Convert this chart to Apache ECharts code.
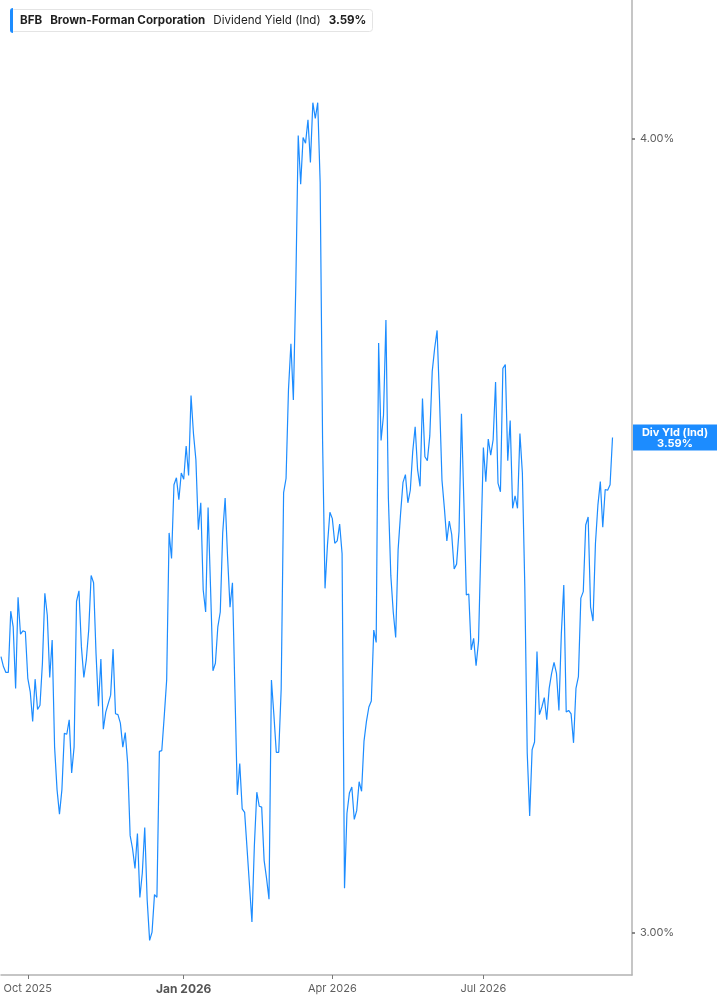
<!DOCTYPE html>
<html>
<head>
<meta charset="utf-8">
<script src="https://cdn.jsdelivr.net/npm/echarts@6/dist/echarts.min.js"></script>
<style>
  html, body { margin: 0; padding: 0; background: #ffffff; }
  #chart { width: 717px; height: 1005px; }
</style>
</head>
<body>
<div id="chart"></div>
<script>
// ---------------- data ----------------
const ticker = 'BFB';
const companyName = 'Brown-Forman Corporation';
const metricName = 'Dividend Yield (Ind)';
const tagName = 'Div Yld (Ind)';

// first trading day shown, market holidays, and number of axis slots (incl. empty future days)
const firstTradingDay = '2025-09-16';
const marketHolidays = ['2025-11-27', '2025-12-25', '2026-01-01', '2026-01-19', '2026-02-16',
  '2026-04-03', '2026-05-25', '2026-06-19', '2026-07-03', '2026-09-07'];
const axisSlots = 260;

// dividend yield (%), one value per trading day
const yieldValues = [
  3.316, 3.304, 3.297, 3.297, 3.371, 3.352, 3.278, 3.388, 3.343, 3.347,
  3.346, 3.290, 3.274, 3.239, 3.289, 3.253, 3.258, 3.308, 3.393, 3.366,
  3.291, 3.336, 3.209, 3.160, 3.132, 3.160, 3.225, 3.224, 3.241, 3.179,
  3.209, 3.383, 3.396, 3.328, 3.291, 3.312, 3.348, 3.415, 3.406, 3.320,
  3.257, 3.313, 3.230, 3.250, 3.260, 3.270, 3.325, 3.248, 3.247, 3.237,
  3.209, 3.226, 3.190, 3.108, 3.093, 3.071, 3.110, 3.039, 3.066, 3.117,
  3.036, 2.992, 3.001, 3.042, 3.039, 3.204, 3.205, 3.245, 3.288, 3.468,
  3.436, 3.529, 3.538, 3.510, 3.544, 3.536, 3.579, 3.541, 3.645, 3.595,
  3.561, 3.472, 3.506, 3.397, 3.370, 3.500, 3.401, 3.299, 3.308, 3.352,
  3.370, 3.468, 3.512, 3.438, 3.376, 3.406, 3.277, 3.154, 3.190, 3.138,
  3.134, 3.093, 3.052, 3.012, 3.097, 3.157, 3.141, 3.140, 3.080, 3.060,
  3.037, 3.288, 3.247, 3.203, 3.203, 3.277, 3.519, 3.537, 3.653, 3.714,
  3.639, 3.793, 4.005, 3.935, 4.002, 3.994, 4.028, 3.966, 4.053, 4.030,
  4.053, 3.937, 3.585, 3.399, 3.453, 3.494, 3.486, 3.455, 3.458, 3.479,
  3.442, 3.049, 3.133, 3.156, 3.163, 3.126, 3.136, 3.169, 3.158, 3.216,
  3.239, 3.256, 3.263, 3.348, 3.333, 3.715, 3.586, 3.619, 3.746, 3.512,
  3.415, 3.370, 3.339, 3.447, 3.492, 3.532, 3.542, 3.506, 3.522, 3.572,
  3.604, 3.548, 3.527, 3.641, 3.565, 3.560, 3.592, 3.677, 3.708, 3.732,
  3.639, 3.535, 3.499, 3.458, 3.483, 3.466, 3.423, 3.429, 3.470, 3.621,
  3.506, 3.391, 3.392, 3.324, 3.338, 3.305, 3.334, 3.455, 3.577, 3.533,
  3.588, 3.567, 3.587, 3.663, 3.531, 3.520, 3.681, 3.686, 3.560, 3.612,
  3.499, 3.515, 3.499, 3.595, 3.544, 3.401, 3.202, 3.130, 3.206, 3.215,
  3.322, 3.247, 3.256, 3.267, 3.241, 3.278, 3.296, 3.309, 3.296, 3.252,
  3.344, 3.403, 3.250, 3.252, 3.248, 3.214, 3.278, 3.292, 3.387, 3.395,
  3.478, 3.488, 3.376, 3.359, 3.455, 3.503, 3.533, 3.475, 3.523, 3.522,
  3.529, 3.590
];

// y axis (log scale) extent and tick labels
const yMin = 2.9547;
const yMax = 4.2066;
const yTickValues = [3, 4];

const monthNames = ['Jan', 'Feb', 'Mar', 'Apr', 'May', 'Jun', 'Jul', 'Aug', 'Sep', 'Oct', 'Nov', 'Dec'];
const quarterMonths = [0, 3, 6, 9];

// ---------------- build categories ----------------
function buildTradingDays(start, count, holidays) {
  const out = [];
  const d = new Date(start + 'T00:00:00Z');
  while (out.length < count) {
    const wd = d.getUTCDay();
    const iso = d.toISOString().slice(0, 10);
    if (wd !== 0 && wd !== 6 && holidays.indexOf(iso) < 0) out.push(iso);
    d.setUTCDate(d.getUTCDate() + 1);
  }
  return out;
}
const dates = buildTradingDays(firstTradingDay, axisSlots, marketHolidays);

function isQuarterStart(idx) {
  if (idx <= 0) return false;
  const m = +dates[idx].slice(5, 7) - 1;
  const pm = +dates[idx - 1].slice(5, 7) - 1;
  return m !== pm && quarterMonths.indexOf(m) >= 0;
}

const lastValue = yieldValues[yieldValues.length - 1];
const lastText = lastValue.toFixed(2) + '%';
const lineColor = '#1c8cff';

const chart = echarts.init(document.getElementById('chart'), null, { renderer: 'canvas' });
chart.setOption({
  animation: false,
  backgroundColor: '#ffffff',
  textStyle: { fontFamily: 'Inter, "Noto Sans", sans-serif' },
  title: {
    left: 10,
    top: 8,
    padding: [6, 6, 5, 10],
    borderColor: '#e4e4e4',
    borderWidth: 1,
    borderRadius: 3,
    text: '{b|' + ticker + '}{s| }{b|' + companyName + '}{s| }{n|' + metricName + '}{s| }{b|' + lastText + '}',
    textStyle: {
      rich: {
        b: { fontFamily: 'Inter', fontSize: 11.6, fontWeight: 'bold', color: '#1f1f1f', lineHeight: 14 },
        n: { fontFamily: 'Inter', fontSize: 11.6, fontWeight: 'normal', color: '#1f1f1f', lineHeight: 14 },
        s: { width: 8, fontSize: 11.6, lineHeight: 14 }
      }
    }
  },
  graphic: [{
    type: 'rect',
    left: 10,
    top: 8,
    z: 100,
    shape: { width: 3, height: 25, r: [3, 0, 0, 3] },
    style: { fill: lineColor }
  }],
  grid: { left: 1, right: 85, top: 0, bottom: 30, containLabel: false },
  xAxis: {
    type: 'category',
    boundaryGap: false,
    data: dates,
    axisLine: { show: true, lineStyle: { color: '#b3b3b3', width: 1.5 } },
    axisTick: {
      show: true,
      interval: (i) => isQuarterStart(i),
      length: 4,
      lineStyle: { color: '#777', width: 1 }
    },
    axisLabel: {
      interval: (i) => isQuarterStart(i),
      margin: 8,
      fontFamily: 'Inter',
      fontSize: 11,
      color: '#5f5f5f',
      formatter: (v) => {
        const m = +v.slice(5, 7) - 1;
        const y = v.slice(0, 4);
        const txt = monthNames[m] + ' ' + y;
        return m === 0 ? '{y|' + txt + '}' : txt;
      },
      rich: {
        y: { fontFamily: 'Inter', fontSize: 12, fontWeight: 'bold', color: '#555' }
      }
    },
    splitLine: { show: false }
  },
  yAxis: {
    type: 'log',
    logBase: 10,
    position: 'right',
    min: yMin,
    max: yMax,
    axisLine: { show: true, lineStyle: { color: '#b3b3b3', width: 1.5 } },
    axisTick: {
      show: true,
      customValues: yTickValues,
      length: 3,
      lineStyle: { color: '#666', width: 1.5 }
    },
    axisLabel: {
      customValues: yTickValues,
      margin: 8,
      fontFamily: 'Inter',
      fontSize: 11,
      color: '#5f5f5f',
      formatter: (v) => Number(v).toFixed(2) + '%'
    },
    splitLine: { show: false },
    minorTick: { show: false },
    minorSplitLine: { show: false }
  },
  series: [{
    type: 'line',
    data: yieldValues,
    showSymbol: false,
    symbol: 'none',
    clip: false,
    lineStyle: { color: lineColor, width: 1.2 },
    itemStyle: { color: lineColor },
    markLine: {
      silent: true,
      animation: false,
      symbol: ['none', 'none'],
      lineStyle: { color: 'rgba(0,0,0,0)', width: 1, type: 'solid' },
      data: [{ yAxis: lastValue }],
      label: {
        show: true,
        position: 'end',
        distance: 1,
        formatter: '{a|' + tagName + '}\n{a|' + lastText + '}',
        backgroundColor: lineColor,
        padding: [2, 0, 1, 0],
        rich: {
          a: { width: 84, align: 'center', color: '#ffffff', fontFamily: 'Inter', fontSize: 11, fontWeight: 'bold', lineHeight: 11.5 }
        }
      }
    }
  }]
});
</script>
</body>
</html>
